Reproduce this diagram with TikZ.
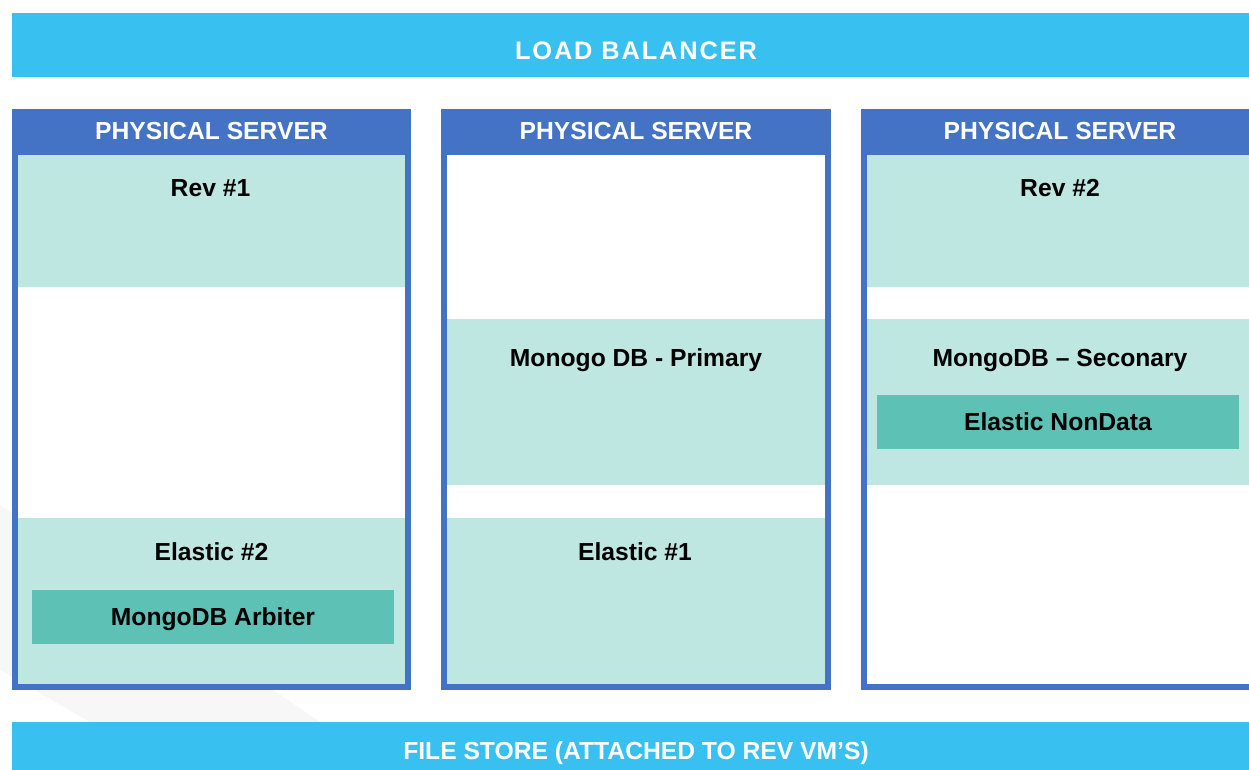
\documentclass[tikz,border=0pt]{standalone}
\usepackage{fontspec}
\setmainfont{Liberation Sans}
\newfontfamily\spacedfont[LetterSpace=7.5]{Liberation Sans}
\definecolor{barblue}{HTML}{38C1F0}
\definecolor{srvblue}{HTML}{4472C4}
\definecolor{lightteal}{HTML}{BEE7E1}
\definecolor{teal}{HTML}{5DC2B5}
\definecolor{faintgray}{HTML}{F7F7F7}
\tikzset{
  lbl/.style={anchor=base, inner sep=0pt, font=\fontsize{18.5}{22}\selectfont\bfseries, text=black},
  hdr/.style={anchor=base, inner sep=0pt, font=\fontsize{18.5}{22}\selectfont\bfseries, text=white},
  srvframe/.style={draw=srvblue, line width=4.5pt},
}
\begin{document}
\begin{tikzpicture}[x=0.75pt, y=-0.75pt]
\useasboundingbox (0,0) rectangle (1249,770);
\fill[white] (0,0) rectangle (1249,770);
% faint background band
\fill[faintgray] (0,505) -- (320,722) -- (90,722) -- (0,670) -- cycle;
% bars
\fill[barblue] (12,13) rectangle (1260,77);
\fill[barblue] (12,722) rectangle (1260,780);
\node[hdr, font=\fontsize{19}{22}\selectfont\bfseries\spacedfont] (lb) at (636,60) {LOAD BALANCER};
\node[hdr] (fs) at (636,759) {FILE STORE (ATTACHED TO REV VM’S)};
% server 1
\fill[lightteal] (18,155) rectangle (405,287);
\fill[lightteal] (18,518) rectangle (405,684);
\fill[teal] (32,590) rectangle (394,644);
\draw[srvframe] (15,112) rectangle (408,687);
\fill[srvblue] (12,109) rectangle (411,155);
\node[hdr] (h1) at (211.5,140) {PHYSICAL SERVER};
\node[lbl] (rev1) at (210.5,196) {Rev \#1};
\node[lbl] (el2) at (211.5,560) {Elastic \#2};
\node[lbl] (arb) at (213,625) {MongoDB Arbiter};
% server 2
\fill[lightteal] (447,319) rectangle (825,485);
\fill[lightteal] (447,518) rectangle (825,684);
\draw[srvframe] (444,112) rectangle (828,687);
\fill[srvblue] (441,109) rectangle (831,155);
\node[hdr] (h2) at (636,140) {PHYSICAL SERVER};
\node[lbl] (prim) at (636,366) {Monogo DB - Primary};
\node[lbl] (el1) at (635,560) {Elastic \#1};
% server 3
\fill[lightteal] (867,155) rectangle (1260,287);
\fill[lightteal] (867,319) rectangle (1260,485);
\fill[teal] (877,395) rectangle (1239,449);
\draw[srvframe] (864,112) rectangle (1257,687);
\fill[srvblue] (861,109) rectangle (1260,155);
\node[hdr] (h3) at (1060,140) {PHYSICAL SERVER};
\node[lbl] (rev2) at (1060,196) {Rev \#2};
\node[lbl] (sec) at (1060,366) {MongoDB – Seconary};
\node[lbl] (end) at (1058,430) {Elastic NonData};
\end{tikzpicture}
\end{document}
